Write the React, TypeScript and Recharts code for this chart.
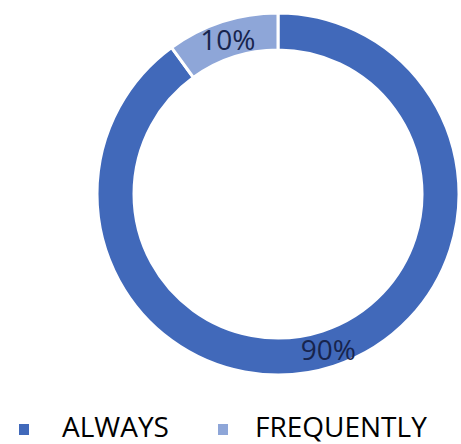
import { Cell, Legend, Pie, PieChart } from "recharts";

const categories = ["ALWAYS", "FREQUENTLY"];
const shares = [90, 10];
const colors = ["#4169BA", "#8EA6D8"];

const data = categories.map((name, i) => ({ name, value: shares[i] }));

const FONT = "'Open Sans', 'Noto Sans', sans-serif";
const RAD = Math.PI / 180;

function SliceLabel(props: any) {
  const { cx, cy, midAngle, innerRadius, outerRadius, percent } = props;
  const r = (innerRadius + outerRadius) / 2;
  const x = cx + r * Math.cos(-midAngle * RAD);
  const y = cy + r * Math.sin(-midAngle * RAD);
  return (
    <text
      x={x}
      y={y}
      textAnchor="middle"
      dominantBaseline="central"
      fill="#17244D"
      fontFamily={FONT}
      fontSize={28}
    >
      {`${Math.round(percent * 100)}%`}
    </text>
  );
}

function LegendRow() {
  return (
    <div style={{ position: "relative", height: 32, fontFamily: FONT }}>
      {data.map((d, i) => (
        <div
          key={d.name}
          style={{ position: "absolute", left: i === 0 ? 0 : 199, top: 0 }}
        >
          <span
            style={{
              position: "absolute",
              left: 19,
              top: 12,
              width: 10,
              height: 11,
              backgroundColor: colors[i],
            }}
          />
          <span
            style={{
              position: "absolute",
              left: i === 0 ? 62 : 56,
              top: 0,
              fontSize: 28,
              lineHeight: "28px",
              color: "#000",
              whiteSpace: "nowrap",
            }}
          >
            {d.name}
          </span>
        </div>
      ))}
    </div>
  );
}

export default function App() {
  return (
    <div style={{ position: "absolute", left: 0, top: 0, background: "#fff" }}>
      <PieChart
        width={461}
        height={444}
        margin={{ top: 0, right: 0, bottom: 0, left: 0 }}
      >
        <Pie
          data={data}
          dataKey="value"
          nameKey="name"
          cx={278}
          cy={194}
          innerRadius={144}
          outerRadius={181}
          startAngle={90}
          endAngle={-270}
          stroke="#fff"
          strokeWidth={3}
          label={SliceLabel}
          labelLine={false}
          isAnimationActive={false}
        >
          {data.map((d, i) => (
            <Cell key={d.name} fill={colors[i]} />
          ))}
        </Pie>
        <Legend
          content={<LegendRow />}
          wrapperStyle={{ left: 0, top: 412, width: 461, margin: 0 }}
        />
      </PieChart>
    </div>
  );
}
